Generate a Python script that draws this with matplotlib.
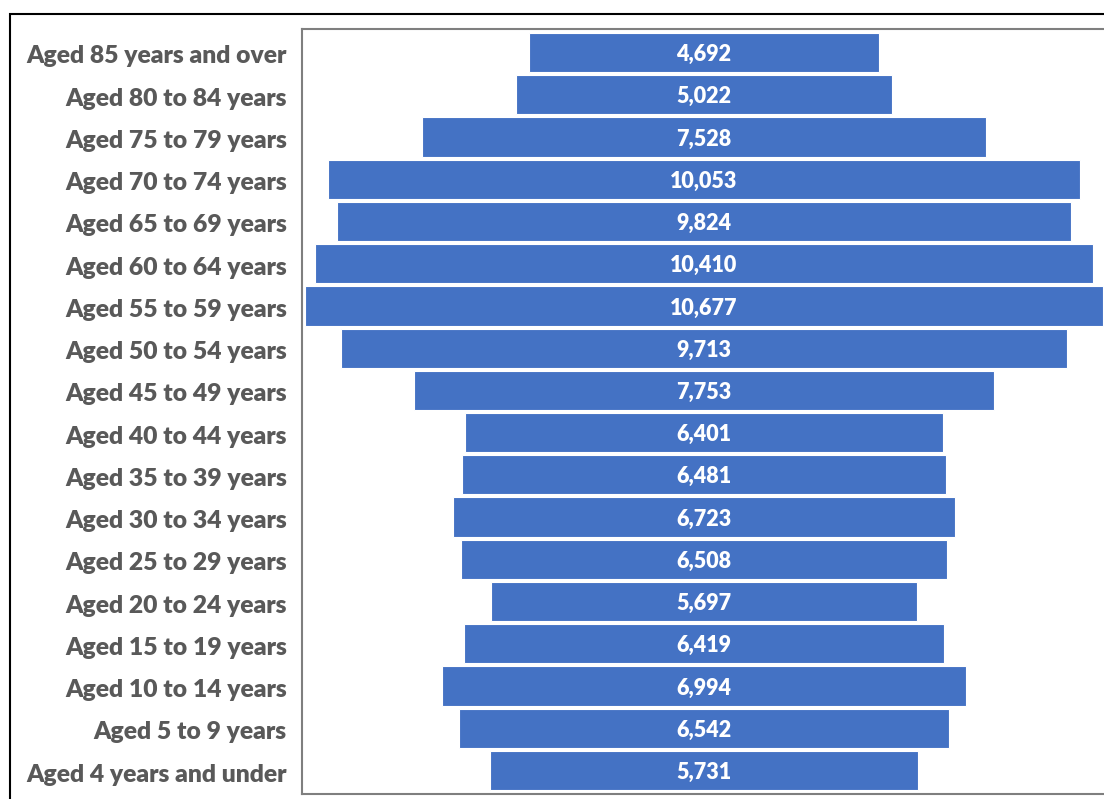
import matplotlib
matplotlib.use("Agg")
import matplotlib.pyplot as plt
from matplotlib.patches import Rectangle
from matplotlib.transforms import ScaledTranslation

# age groups, top to bottom
groups = [
    "Aged 85 years and over", "Aged 80 to 84 years", "Aged 75 to 79 years",
    "Aged 70 to 74 years", "Aged 65 to 69 years", "Aged 60 to 64 years",
    "Aged 55 to 59 years", "Aged 50 to 54 years", "Aged 45 to 49 years",
    "Aged 40 to 44 years", "Aged 35 to 39 years", "Aged 30 to 34 years",
    "Aged 25 to 29 years", "Aged 20 to 24 years", "Aged 15 to 19 years",
    "Aged 10 to 14 years", "Aged 5 to 9 years", "Aged 4 years and under",
]
counts = [4692, 5022, 7528, 10053, 9824, 10410, 10677, 9713, 7753,
          6401, 6481, 6723, 6508, 5697, 6419, 6994, 6542, 5731]

bar_color = "#4472C4"
label_color = "#595959"

plt.rc("font", family=["Lato", "DejaVu Sans"])

W, H = 1104, 799
fig = plt.figure(figsize=(W / 100, H / 100), dpi=100)

# outer frame (cut off by the image edges on the right and bottom)
fig.patches.append(Rectangle((10 / W, -0.05), 1.2, 1 - 14 / H + 0.05,
                             transform=fig.transFigure, fill=False,
                             edgecolor="black", linewidth=1.5))

ax = fig.add_axes([302 / W, 1 - 794 / H, (1106 - 302) / W, (794 - 29) / H])

y = list(range(len(groups)))
lefts = [-c / 2 for c in counts]
ax.barh(y, counts, left=lefts, height=0.93, color=bar_color,
        edgecolor="white", linewidth=0.8)

down = ScaledTranslation(0, -2 / 100, fig.dpi_scale_trans)
for yi, c in zip(y, counts):
    ax.text(0, yi, f"{c:,}", ha="center", va="center", color="white",
            fontsize=15.5, fontweight="heavy",
            transform=ax.transData + down)

half = 5374
ax.set_xlim(-half, half)
ax.set_ylim(17.556, -0.556)
ax.set_xticks([])
ax.set_yticks(y)
ax.set_yticklabels(groups, fontsize=17.7, fontweight="heavy", color=label_color)
ax.tick_params(axis="y", length=0, pad=11)
for lbl in ax.get_yticklabels():
    lbl.set_transform(lbl.get_transform() + down)
for s in ax.spines.values():
    s.set_color("#7F7F7F")
    s.set_linewidth(1.5)

fig.savefig("out.png", dpi=100)
